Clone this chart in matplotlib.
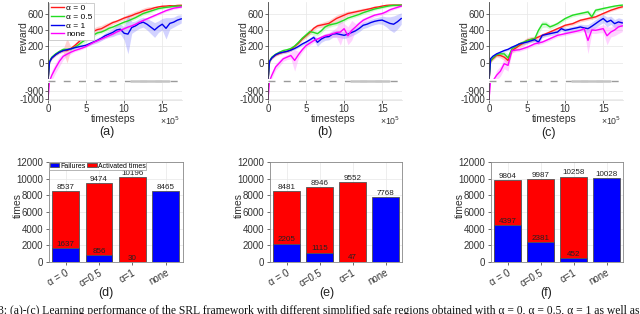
import matplotlib
matplotlib.use("Agg")
import matplotlib.pyplot as plt
import matplotlib.transforms as mtransforms
import numpy as np

plt.rcParams['font.family'] = ['Liberation Sans', 'DejaVu Sans']

# time grid (x 1e5 timesteps)
T = [0, 0.2, 0.5, 1, 1.5, 2, 2.5, 3, 3.5, 4, 4.5, 5, 5.5, 6, 6.5, 7, 7.5, 8, 8.5,
     9, 9.5, 10, 10.5, 11, 11.5, 12, 12.5, 13, 13.5, 14, 14.5, 15, 15.5, 16, 16.5, 17, 17.5]

# panel (a)
a_red = [-400, 20, 60, 100, 130, 150, 150, 175, 210, 250, 300, 350, 375, 385, 405, 415, 440, 465, 490,
         505, 525, 545, 560, 575, 595, 610, 630, 645, 655, 670, 680, 688, 690, 695, 693, 698, 700]
a_red_s = [10, 15, 15, 15, 15, 20, 150, 20, 25, 40, 40, 40, 40, 40, 40, 40, 40, 30, 25,
           20, 20, 25, 30, 35, 35, 35, 35, 35, 30, 20, 15, 15, 15, 15, 15, 15, 15]
a_green = [-400, 20, 70, 110, 140, 165, 165, 170, 190, 220, 255, 285, 310, 340, 365, 375, 395, 420, 435,
           455, 475, 495, 510, 530, 550, 575, 600, 615, 630, 645, 660, 668, 675, 680, 688, 690, 692]
a_green_s = [10, 15, 15, 15, 15, 15, 15, 20, 20, 25, 30, 30, 25, 25, 20, 20, 20, 20, 20,
             20, 20, 20, 20, 20, 20, 20, 20, 20, 20, 15, 15, 15, 15, 15, 15, 15, 15]
a_blue = [-400, 10, 60, 100, 130, 150, 160, 170, 185, 195, 205, 215, 235, 255, 275, 300, 330, 350, 370,
          400, 410, 360, 350, 430, 450, 480, 495, 470, 435, 400, 440, 470, 420, 480, 495, 520, 535]
a_blue_s = [10, 15, 15, 15, 15, 15, 15, 15, 15, 15, 15, 20, 20, 25, 30, 30, 35, 40, 50,
            60, 60, 80, 240, 70, 60, 60, 60, 70, 80, 90, 70, 70, 130, 70, 60, 60, 50]
a_mag = [-1000, -300, -150, -60, 20, 80, 106, 130, 150, 165, 180, 200, 225, 250, 270, 290, 310, 330, 350,
         375, 395, 415, 435, 450, 470, 495, 515, 535, 555, 575, 595, 615, 635, 650, 665, 672, 680]
a_mag_s = [30, 30, 60, 60, 60, 40, 25, 20, 15, 15, 15, 15, 15, 15, 15, 15, 15, 15, 15,
           15, 15, 15, 15, 15, 15, 15, 15, 15, 15, 15, 15, 15, 15, 15, 15, 15, 15]

# panel (b)
b_red = [-400, 20, 60, 95, 115, 130, 140, 160, 200, 240, 290, 330, 370, 420, 450, 460, 470, 480, 510,
         540, 560, 580, 600, 610, 620, 630, 640, 650, 660, 673, 680, 690, 698, 702, 702, 702, 702]
b_red_s = [10, 15, 15, 15, 15, 15, 20, 20, 20, 20, 20, 25, 25, 25, 25, 30, 35, 40, 40,
           40, 40, 35, 30, 25, 25, 25, 25, 20, 20, 20, 15, 15, 15, 15, 15, 15, 15]
b_green = [-400, 20, 70, 105, 130, 150, 160, 175, 205, 250, 300, 340, 380, 370, 355, 390, 437, 460, 470,
           480, 500, 520, 545, 560, 575, 590, 610, 625, 640, 655, 665, 675, 685, 694, 700, 700, 702]
b_green_s = [10, 15, 15, 15, 15, 15, 15, 20, 20, 20, 25, 30, 35, 30, 30, 30, 30, 30, 25,
             25, 25, 20, 20, 20, 20, 20, 20, 20, 20, 15, 15, 15, 15, 15, 15, 15, 15]
b_blue = [-400, 20, 60, 100, 120, 130, 140, 155, 175, 200, 230, 253, 280, 310, 250, 290, 314, 320, 350,
          355, 345, 335, 350, 370, 390, 420, 457, 470, 490, 505, 515, 520, 500, 480, 470, 500, 539]
b_blue_s = [10, 15, 15, 15, 15, 15, 15, 15, 15, 15, 20, 20, 25, 30, 50, 40, 40, 40, 40,
            40, 40, 40, 40, 40, 40, 40, 40, 40, 40, 40, 40, 50, 60, 80, 100, 90, 70]
b_mag = [-1000, -300, -150, -50, 0, 50, 70, 90, 30, 100, 160, 210, 240, 270, 290, 310, 330, 340, 355,
         370, 375, 416, 330, 396, 437, 480, 518, 540, 560, 580, 590, 600, 620, 645, 661, 675, 690]
b_mag_s = [30, 30, 40, 40, 40, 30, 30, 40, 130, 40, 30, 25, 25, 25, 25, 25, 25, 30, 40,
           60, 160, 60, 110, 120, 40, 30, 30, 25, 25, 20, 20, 20, 20, 20, 15, 15, 15]

# panel (c)
c_red = [-400, 20, 50, 90, 90, 70, 30, 150, 180, 212, 240, 273, 285, 294, 315, 335, 355, 375, 395,
         416, 435, 457, 467, 477, 498, 518, 528, 539, 549, 559, 580, 600, 620, 640, 655, 670, 681]
c_red_s = [10, 15, 20, 20, 30, 40, 60, 30, 30, 30, 35, 35, 35, 30, 25, 25, 20, 20, 20,
           20, 20, 20, 20, 20, 20, 20, 20, 20, 20, 20, 15, 15, 15, 15, 15, 15, 15]
c_green = [-400, 20, 60, 100, 110, 110, 60, 171, 200, 232, 250, 270, 285, 294, 396, 470, 470, 437, 455,
           477, 508, 539, 560, 580, 590, 600, 610, 620, 559, 640, 650, 661, 671, 681, 690, 697, 702]
c_green_s = [10, 15, 20, 20, 25, 30, 50, 30, 25, 25, 25, 25, 25, 30, 40, 40, 35, 30, 25,
             25, 25, 20, 20, 20, 20, 20, 20, 25, 40, 25, 20, 20, 15, 15, 15, 15, 15]
c_blue = [-400, 50, 80, 110, 130, 150, 165, 190, 210, 232, 243, 253, 268, 282, 253, 335, 345, 355, 365,
          375, 416, 396, 405, 416, 425, 437, 425, 416, 445, 477, 510, 539, 498, 518, 477, 498, 486]
c_blue_s = [10, 15, 15, 15, 15, 15, 15, 15, 15, 15, 20, 20, 20, 25, 30, 25, 25, 25, 25,
            25, 30, 30, 30, 30, 30, 35, 40, 50, 50, 50, 50, 50, 60, 50, 50, 50, 50]
c_mag = [-1000, -400, -300, -150, -100, -10, -30, 150, 155, 160, 175, 190, 210, 232, 242, 253, 273, 294, 315,
         335, 345, 355, 365, 375, 385, 396, 416, 273, 400, 396, 406, 416, 330, 375, 400, 437, 450]
c_mag_s = [40, 40, 40, 60, 60, 60, 70, 30, 20, 20, 20, 20, 20, 20, 20, 20, 20, 20, 20,
           20, 20, 20, 20, 20, 20, 25, 30, 160, 40, 40, 40, 50, 110, 60, 70, 80, 70]

# bar panels (d)-(f)
bar_labels = ['α = 0', 'α=0.5', 'α=1', 'none']
d_fail = [1637, 856, 30, 8465]
d_act = [8537, 9474, 10196, 0]
e_fail = [2205, 1115, 47, 7768]
e_act = [8481, 8946, 9552, 0]
f_fail = [4397, 2381, 452, 10028]
f_act = [9804, 9987, 10258, 0]

series_names = ['α = 0', 'α = 0.5', 'α = 1', 'none']
series_colors = ['#ff1a1a', '#22dd22', '#0000ee', '#ff00ff']
band_colors = ['#ff8080', '#90f090', '#8080ff', '#ff80ff']


def fwd(y):
    return np.interp(y, [-5000, -780, -220, 5000], [-4440, -221, -220, 5000])


def inv(v):
    return np.interp(v, [-4440, -221, -220, 5000], [-5000, -780, -220, 5000])


fig = plt.figure(figsize=(6.4, 3.14), dpi=100)
W, H = 640.0, 314.0


def axes_px(left, top, right, bottom):
    return fig.add_axes([left / W, 1 - bottom / H, (right - left) / W, (bottom - top) / H])


top_lefts = [48, 268, 489]
top_panels = [
    (a_red, a_red_s, a_green, a_green_s, a_blue, a_blue_s, a_mag, a_mag_s),
    (b_red, b_red_s, b_green, b_green_s, b_blue, b_blue_s, b_mag, b_mag_s),
    (c_red, c_red_s, c_green, c_green_s, c_blue, c_blue_s, c_mag, c_mag_s),
]
tx = np.array(T) * 1e5

for k, (left, pdata) in enumerate(zip(top_lefts, top_panels)):
    ax = axes_px(left, 2, left + 134, 100)
    ax.set_yscale('function', functions=(fwd, inv))
    for i in range(4):
        y = np.array(pdata[2 * i], dtype=float)
        s = np.array(pdata[2 * i + 1], dtype=float)
        ax.fill_between(tx, y - s, y + s, color=band_colors[i], alpha=0.35, lw=0)
    for i in range(4):
        y = np.array(pdata[2 * i], dtype=float)
        ax.plot(tx, y, color=series_colors[i], lw=1.0, label=series_names[i])
    ax.set_xlim(0, 17.6e5)
    ax.set_ylim(-1010, 740)
    ax.set_xticks([0, 5e5, 10e5, 15e5])
    ax.set_xticklabels(['0', '5', '10', '15'])
    ax.set_yticks([-1000, -900, 0, 200, 400, 600])
    ax.set_yticklabels(['-1000', '-900', '0', '200', '400', '600'])
    ax.tick_params(labelsize=7, length=2, width=0.5, colors='#333333', pad=1)
    ax.grid(True, color='#e6e6e6', lw=0.5)
    ax.set_axisbelow(True)
    for sp in ['top', 'right']:
        ax.spines[sp].set_visible(False)
    ax.spines['left'].set_color('#444444')
    ax.spines['left'].set_linewidth(0.6)
    ax.spines['bottom'].set_color('#dddddd')
    ax.spines['bottom'].set_linewidth(0.5)
    # axis break
    trans = mtransforms.blended_transform_factory(ax.transAxes, ax.transData)
    ax.plot([0, 1], [-500, -500], transform=trans, color='white', lw=3, zorder=4,
            solid_capstyle='butt', clip_on=False)
    ax.plot([0, 1], [-500, -500], transform=trans, color='#9a9a9a', lw=1.0, zorder=5,
            dashes=(5, 6), clip_on=False)
    ax.plot([0.62, 0.9], [-500, -500], transform=trans, color='#c4c4c4', lw=1.8, zorder=5,
            solid_capstyle='round')
    ax.set_xlabel('timesteps', fontsize=7.5, color='#333333')
    ax.xaxis.set_label_coords(0.49, -0.14)
    ax.set_ylabel('reward', fontsize=7.5, color='#333333')
    ax.yaxis.set_label_coords(-0.15, 0.64)
    ax.text(0.99, -0.21, '×10$^5$', transform=ax.transAxes, ha='right', va='center',
            fontsize=6.3, color='#333333')
    if k == 0:
        leg = ax.legend(loc='upper left', bbox_to_anchor=(0.0, 1.0), fontsize=6,
                        handlelength=1.6, handletextpad=0.3, labelspacing=0.1,
                        borderpad=0.2, borderaxespad=0.1, fancybox=False,
                        framealpha=1, edgecolor='#bbbbbb')
        leg.get_frame().set_linewidth(0.5)

bot_lefts = [49, 270, 491]
bot_rights = [182.5, 402, 623]
bot_panels = [(d_fail, d_act), (e_fail, e_act), (f_fail, f_act)]
pos = np.arange(1, 5)

for k, (left, right, (fail, act)) in enumerate(zip(bot_lefts, bot_rights, bot_panels)):
    ax = axes_px(left, 162, right, 262)
    b1 = ax.bar(pos, act, width=0.8, color='#ff0000', edgecolor='#555555', lw=0.6,
                label='Activated times')
    b0 = ax.bar(pos, fail, width=0.8, color='#0000ff', edgecolor='#555555', lw=0.6,
                label='Failures')
    for p, fv, av in zip(pos, fail, act):
        if av > 0:
            ax.text(p, av + 30, str(av), ha='center', va='bottom', fontsize=5.8, color='#222222')
        ax.text(p, fv + 30, str(fv), ha='center', va='bottom', fontsize=5.8, color='#222222')
    ax.set_xlim(0.5, 4.5)
    ax.set_ylim(0, 12000)
    ax.set_yticks(np.arange(0, 12001, 2000))
    ax.set_xticks(pos)
    ax.set_xticklabels(bar_labels, rotation=30, ha='right', rotation_mode='anchor')
    ax.tick_params(labelsize=7, length=2, width=0.5, colors='#333333', pad=2)
    ax.grid(True, color='#e8e8e8', lw=0.5)
    ax.set_axisbelow(True)
    for sp in ax.spines.values():
        sp.set_color('#888888')
        sp.set_linewidth(0.6)
    ax.set_ylabel('times', fontsize=7.5, color='#333333')
    ax.yaxis.set_label_coords(-0.195, 0.57)
    if k == 0:
        leg = ax.legend(handles=[b0, b1], loc='upper left', bbox_to_anchor=(0.0, 1.0), ncol=2,
                        fontsize=5, handlelength=1.4, handleheight=0.6, handletextpad=0.15,
                        columnspacing=0.2, borderpad=0.05, borderaxespad=0.05,
                        fancybox=False, framealpha=1, edgecolor='#999999')
        leg.get_frame().set_linewidth(0.5)
        leg.set_zorder(6)

for lab, xp, yp in [('(a)', 107, 132), ('(b)', 325, 132), ('(c)', 549, 133),
                    ('(d)', 106, 293), ('(e)', 327, 293), ('(f)', 546, 293)]:
    fig.text(xp / W, 1 - yp / H, lab, ha='center', va='center', fontsize=9, color='#222222')

fig.text(-2 / W, 1 - 305 / H,
         '3: (a)-(c) Learning performance of the SRL framework with different simplified safe regions '
         'obtained with α = 0, α = 0.5, α = 1 as well as t',
         ha='left', va='top', fontsize=8.4, family=['Liberation Serif', 'DejaVu Serif'],
         color='#111111')

fig.savefig('out.png', dpi=100)
